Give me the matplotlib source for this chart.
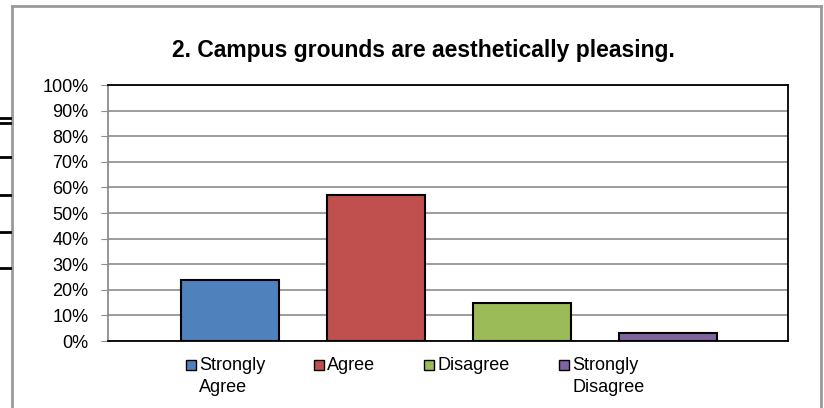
import matplotlib.pyplot as plt
from matplotlib.patches import Rectangle
from matplotlib.lines import Line2D

plt.rcParams['font.family'] = ['Liberation Sans', 'DejaVu Sans']

categories = ['Strongly\nAgree', 'Agree', 'Disagree', 'Strongly\nDisagree']
values = [24, 57, 15, 3]
colors = ['#4f81bd', '#c0504d', '#9bbb59', '#8064a2']
title = '2. Campus grounds are aesthetically pleasing.'

W, H = 824, 408
fig = plt.figure(figsize=(W / 100, H / 100), dpi=100)
ax = fig.add_axes([108/W, 1 - 341/H, 680/W, 256/H])

x = range(len(values))
ax.bar(x, values, width=0.67, color=colors, edgecolor='black', linewidth=1.5, zorder=3)
ax.set_xlim(-0.836, 3.825)
ax.set_ylim(0, 100)
ax.set_yticks(range(0, 101, 10))
ax.set_yticklabels([f'{v}%' for v in range(0, 101, 10)], fontsize=13)
ax.set_xticks([])
ax.yaxis.grid(True, color='#8c8c8c', linewidth=1.2, zorder=0)
ax.tick_params(axis='y', direction='out', length=5, color='#8c8c8c', pad=9)
for s in ['top', 'right', 'bottom']:
    ax.spines[s].set_color('black')
    ax.spines[s].set_linewidth(1.3)
ax.spines['left'].set_color('#8c8c8c')
ax.spines['left'].set_linewidth(1.3)

fig.text(423/W, 1 - 50/H, title, ha='center', va='center', fontsize=16.5, fontweight='bold')

# legend, laid out by hand
leg_x = [186, 314, 424, 559]
for lx, lab, c in zip(leg_x, categories, colors):
    fig.add_artist(Rectangle((lx/W, 1 - 370/H), 10/W, 10/H, facecolor=c,
                             edgecolor='black', linewidth=1, transform=fig.transFigure))
    fig.text((lx + 13)/W, 1 - 357/H, lab, ha='left', va='top', fontsize=13, linespacing=1.35)

# outer chart frame
fc = '#9a9a9a'
fig.add_artist(Line2D([12/W, 12/W], [0, 1 - 6/H], color=fc, linewidth=2))
fig.add_artist(Line2D([821/W, 821/W], [0, 1 - 6/H], color=fc, linewidth=2))
fig.add_artist(Line2D([12/W, 821/W], [1 - 6/H, 1 - 6/H], color=fc, linewidth=2))

# stray table rules at the left edge
for yy in [118, 123, 157, 195, 232, 268]:
    fig.add_artist(Line2D([0, 10/W], [1 - yy/H, 1 - yy/H], color='black', linewidth=2))

fig.savefig('out.png', dpi=100)
